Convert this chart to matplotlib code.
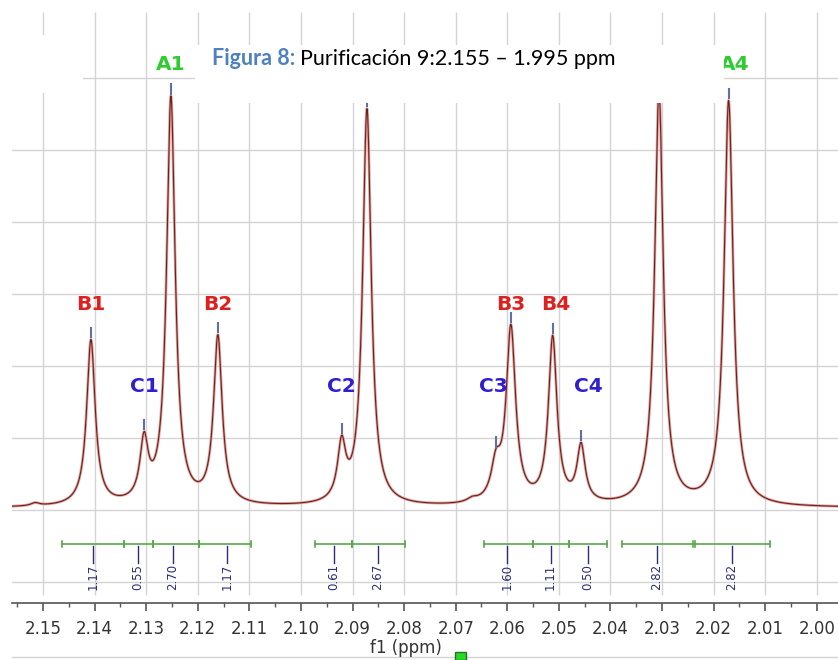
import matplotlib.pyplot as plt
from matplotlib.patches import Rectangle
import numpy as np

# peaks: name, shift (ppm), height, half width at half height (ppm)
peak_names = ['B1', 'C1', 'A1', 'B2', 'C2', 'A2', 'C3', 'B3', 'B4', 'C4', 'A3', 'A4']
peak_ppm = [2.1407, 2.1304, 2.1252, 2.1161, 2.0921, 2.0872, 2.0622, 2.0593, 2.0512, 2.0457, 2.0306, 2.0171]
peak_height = [2.30, 0.82, 5.65, 2.32, 0.77, 5.50, 0.47, 2.43, 2.30, 0.78, 5.75, 5.62]
peak_hw = [0.00100, 0.00095, 0.00100, 0.00100, 0.00095, 0.00100, 0.00110, 0.00110, 0.00100, 0.00095, 0.00100, 0.00105]
# peaks whose label is hidden under the title box in the original
hidden_labels = ['A2', 'A3']

# small humps on the baseline
hump_ppm = [2.1515, 2.0668]
hump_height = [0.04, 0.05]
hump_hw = [0.0010, 0.0012]
baseline = 0.03

# integrals
int_from = [2.1463, 2.1343, 2.1287, 2.1198, 2.0973, 2.0901, 2.0645, 2.0550, 2.0481, 2.0378, 2.0236]
int_to = [2.1343, 2.1287, 2.1198, 2.1097, 2.0901, 2.0798, 2.0550, 2.0481, 2.0407, 2.0240, 2.0091]
int_label_ppm = [2.1403, 2.1316, 2.1248, 2.1143, 2.0936, 2.0851, 2.0601, 2.0516, 2.0444, 2.0310, 2.0165]
int_values = ['1.17', '0.55', '2.70', '1.17', '0.61', '2.67', '1.60', '1.11', '0.50', '2.82', '2.82']

W, H = 838, 660
fig = plt.figure(figsize=(W / 100, H / 100), dpi=100)
ax = fig.add_axes([12 / W, 1 - 603 / H, 1 - 12 / W, (603 - 12) / H])

x0, x1 = 2.1560, 1.9959
y0, y1 = -1.2917, 6.9167
ax.set_xlim(x0, x1)
ax.set_ylim(y0, y1)
px = (x0 - x1) / (W - 12)  # ppm per pixel


def spectrum(x):
    y = np.full_like(x, baseline)
    for c, h, g in zip(peak_ppm + hump_ppm, peak_height + hump_height, peak_hw + hump_hw):
        y += h / (1 + ((x - c) / g) ** 2)
    return y


xs = np.linspace(x0, x1, 4000)
ys = spectrum(xs)

# grid
grid_c = '#d4d4d4'
for v in range(-1, 7):
    ax.axhline(v, color=grid_c, lw=1.0, zorder=0)
major = np.round(np.arange(2.15, 1.999, -0.01), 2)
ax.vlines(major, -1.18, y1, color=grid_c, lw=1.0, zorder=0)

# spectrum line
ax.plot(xs, ys, color='#dda39c', lw=2.0, zorder=2)
ax.plot(xs, ys, color='#6e1f1f', lw=0.8, zorder=3)

# peak pick markers
for c in peak_ppm:
    top = spectrum(np.array([c]))[0]
    ax.plot([c, c], [top + 0.03, top + 0.16], color='#5f6fa8', lw=1.5, zorder=4)

# peak labels
label_colors = {'A': '#2ecc2e', 'B': '#e01f1f', 'C': '#2f1fd0'}
label_level = {'A': 6.19, 'B': 2.85, 'C': 1.72}
label_nudge = {'A4': 6, 'C4': 7, 'C3': -3, 'B4': 3}  # pixels
for name, c in zip(peak_names, peak_ppm):
    if name in hidden_labels:
        continue
    ax.text(c - label_nudge.get(name, 0) * px, label_level[name[0]], name,
            color=label_colors[name[0]], fontsize=14.5, fontweight='bold',
            ha='center', va='center', zorder=4)

# integrals
int_c = '#55aa48'
bar_v = -0.472
for a, b in zip(int_from, int_to):
    ax.plot([a, b], [bar_v, bar_v], color=int_c, lw=1.2, zorder=3)
    ax.plot([a, a], [bar_v - 0.045, bar_v + 0.045], color=int_c, lw=1.2, zorder=3)
    ax.plot([b, b], [bar_v - 0.045, bar_v + 0.045], color=int_c, lw=1.2, zorder=3)
for c, t in zip(int_label_ppm, int_values):
    ax.plot([c, c], [bar_v - 0.03, -0.74], color='#2b2b77', lw=1.0, zorder=3)
    ax.text(c, -0.75, t, rotation=90, ha='center', va='top', fontsize=8.5,
            color='#2b2b77', zorder=3)

# axis
for s in ['top', 'right', 'left']:
    ax.spines[s].set_visible(False)
ax.spines['bottom'].set_color('#555555')
ax.spines['bottom'].set_linewidth(1.2)
ax.set_yticks([])
ax.set_xticks(major)
ax.set_xticklabels(['%.2f' % v for v in major])
ax.set_xticks(np.round(np.arange(2.155, 1.999, -0.01), 3), minor=True)
ax.tick_params(axis='x', which='major', direction='out', length=6, width=1.2,
               color='#555555', labelsize=12, labelcolor='#333333', pad=6)
ax.tick_params(axis='x', which='minor', direction='out', length=3, width=1.0, color='#555555')

fig.text(406 / W, 1 - 648 / H, 'f1 (ppm)', fontsize=12, color='#333333', ha='center', va='center')
fig.add_artist(plt.Line2D([12 / W, 1], [1 - 657 / H, 1 - 657 / H], color=grid_c, lw=1.0))
fig.patches.append(Rectangle((455 / W, 0), 11 / W, 8 / H, transform=fig.transFigure,
                             facecolor='#22dd22', edgecolor='#336633', lw=1, zorder=5))

# white boxes over the top of the chart
fig.patches.append(Rectangle((195 / W, 1 - 103 / H), (724 - 195) / W, 58 / H,
                             transform=fig.transFigure, facecolor='white', edgecolor='none', zorder=5))
fig.patches.append(Rectangle((0, 1 - 93 / H), 83 / W, 58 / H,
                             transform=fig.transFigure, facecolor='white', edgecolor='none', zorder=5))

# title
t1 = fig.text(212 / W, 1 - 65 / H, 'Figura 8:', fontsize=15.5, fontweight='bold', color='#4f81bd',
              family='Lato', va='baseline', zorder=6)
fig.canvas.draw()
bb = t1.get_window_extent()
fig.text(bb.x1 / W + 5 / W, 1 - 65 / H, 'Purificación 9:2.155 – 1.995 ppm', fontsize=15.5,
         color='black', family='Lato', va='baseline', zorder=6)

fig.savefig('out.png', dpi=100)
